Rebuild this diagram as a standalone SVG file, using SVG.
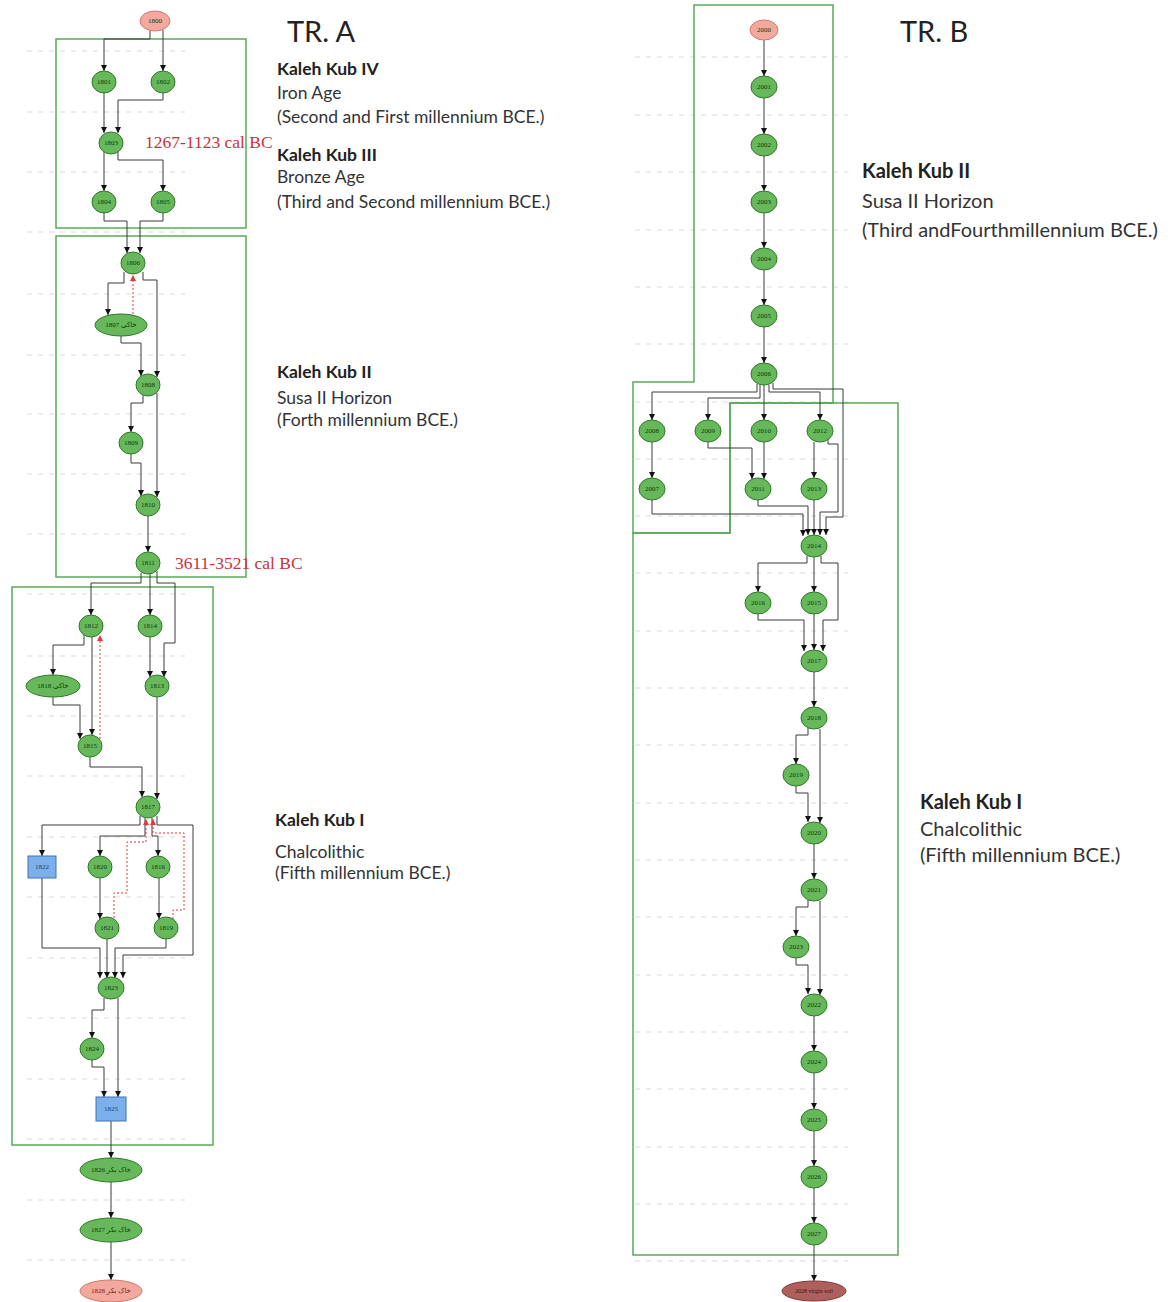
<svg xmlns="http://www.w3.org/2000/svg" width="1173" height="1302" viewBox="0 0 1173 1302">
<style>
.g{stroke:#d9d9d9;stroke-width:1;stroke-dasharray:5 6;fill:none}
.c{fill:none;stroke:#5aa85a;stroke-width:1.5}
.n{fill:#66b85a;stroke:#2f7a2a;stroke-width:1}
.p{fill:#f2a89c;stroke:#cf7a70;stroke-width:1}
.b{fill:#7cb0ea;stroke:#3f72b8;stroke-width:1}
.v{fill:#b0605c;stroke:#7a3a38;stroke-width:1}
.t{font-family:"Liberation Serif","DejaVu Sans",serif;font-size:7px;fill:#0f3a0f;text-anchor:middle;dominant-baseline:central}
.e{fill:none;stroke:#3a3a3a;stroke-width:1;marker-end:url(#a)}
.r{fill:none;stroke:#e03a3a;stroke-width:1;stroke-dasharray:2 2;marker-end:url(#ar)}
.h{font-family:Lato,"Open Sans","Liberation Sans",sans-serif;fill:#222}
.lb{font-family:Lato,"Open Sans","Liberation Sans",sans-serif;fill:#333}
.red{font-family:"Liberation Serif",serif;font-size:17.5px;fill:#c8323c}
.sa{font-size:17.5px}
.sb{font-size:20px}
</style>
<defs>
<marker id="a" viewBox="0 0 10 10" refX="10" refY="5" markerWidth="6" markerHeight="6" markerUnits="userSpaceOnUse" orient="auto"><path d="M0,0L10,5L0,10z" fill="#111"/></marker>
<marker id="ar" viewBox="0 0 10 10" refX="10" refY="5" markerWidth="6" markerHeight="6" markerUnits="userSpaceOnUse" orient="auto"><path d="M0,0L10,5L0,10z" fill="#e03a3a"/></marker>
</defs>
<rect width="1173" height="1302" fill="#fff"/>
<g id="grid">
<path class="g" d="M27,51H185M27,112H185M27,172H185M27,232H185M27,294H185M27,355H185M27,414H185M27,474H185M27,534H185M27,594H185M27,656H185M27,716H185M27,776H185M27,837H185M27,897H185M27,958H185M27,1018H185M27,1079H185M27,1139H185M27,1200H185M27,1260H185"/>
<path class="g" d="M635,57H848M635,115H848M635,172H848M635,230H848M635,287H848M635,344H848M635,402H848M635,459H848M635,516H848M635,573H848M635,631H848M635,688H848M635,745H848M635,803H848M635,860H848M635,917H848M635,975H848M635,1032H848M635,1089H848M635,1147H848M635,1204H848M635,1261H848"/>
</g>
<g id="clusters">
<rect class="c" x="56" y="39" width="190" height="189"/>
<rect class="c" x="56" y="236" width="190" height="341"/>
<rect class="c" x="12" y="587" width="201" height="558"/>
<polygon class="c" points="694,5 833,5 833,403 730,403 730,533 633,533 633,382 694,382"/>
<polygon class="c" points="730,403 898,403 898,1255 633,1255 633,533 730,533"/>
</g>
<g id="connectors">
<path class="e" d="M150,31V39H104V71"/>
<path class="e" d="M163,30V71"/>
<path class="e" d="M104,93V133"/>
<path class="e" d="M163,93V100H118V133"/>
<path class="e" d="M104,152V191"/>
<path class="e" d="M118,152V160H163V191"/>
<path class="e" d="M104,213V221H127V253"/>
<path class="e" d="M163,213V221H140V253"/>
<path class="e" d="M124,272V283H108V315"/>
<path class="r" d="M133,314V275"/>
<path class="e" d="M143,272V280H157V377"/>
<path class="e" d="M121,336V343H141V376"/>
<path class="e" d="M143,395V403H131V432"/>
<path class="e" d="M157,393V497"/>
<path class="e" d="M131,454V463H141V496"/>
<path class="e" d="M148,516V552"/>
<path class="e" d="M141,573V583H91V615"/>
<path class="e" d="M150,574V615"/>
<path class="e" d="M157,571V583H175V643H164V677"/>
<path class="e" d="M150,637V677"/>
<path class="e" d="M84,635V645H53V675"/>
<path class="e" d="M92,637V735"/>
<path class="e" d="M53,697V705H80V739"/>
<path class="r" d="M100,739V635"/>
<path class="e" d="M90,757V767H142V797"/>
<path class="e" d="M157,697V799"/>
<path class="e" d="M140,816V825H42V856"/>
<path class="e" d="M145,818V836H100V856"/>
<path class="e" d="M152,818V836H158V856"/>
<path class="e" d="M157,816V825H193V955H123V978"/>
<path class="r" d="M114,918V893H127V842H146V819"/>
<path class="r" d="M173,919V910H184V833H153V819"/>
<path class="e" d="M42,878V948H100V978"/>
<path class="e" d="M100,878V919"/>
<path class="e" d="M159,878V919"/>
<path class="e" d="M107,939V978"/>
<path class="e" d="M166,939V948H115V978"/>
<path class="e" d="M104,998V1010H92V1038"/>
<path class="e" d="M118,998V1097"/>
<path class="e" d="M92,1060V1067H104V1097"/>
<path class="e" d="M111,1121V1158"/>
<path class="e" d="M111,1182V1218"/>
<path class="e" d="M111,1242V1280"/>
<path class="e" d="M764,40V76"/>
<path class="e" d="M764,98V134"/>
<path class="e" d="M764,156V191"/>
<path class="e" d="M764,213V248"/>
<path class="e" d="M764,270V305"/>
<path class="e" d="M764,327V363"/>
<path class="e" d="M757,384V392H652V420"/>
<path class="e" d="M760,385V398H708V420"/>
<path class="e" d="M764,385V420"/>
<path class="e" d="M769,385V392H820V420"/>
<path class="e" d="M773,383V389H843V517H826V535"/>
<path class="e" d="M652,442V478"/>
<path class="e" d="M708,442V448H752V479"/>
<path class="e" d="M764,442V479"/>
<path class="e" d="M814,442V478"/>
<path class="e" d="M828,439V444H838V512H820V535"/>
<path class="e" d="M652,500V514H803V536"/>
<path class="e" d="M758,500V506H808V535"/>
<path class="e" d="M814,500V535"/>
<path class="e" d="M807,556V563H758V592"/>
<path class="e" d="M814,557V592"/>
<path class="e" d="M821,556V563H838V620H823V651"/>
<path class="e" d="M758,614V620H804V651"/>
<path class="e" d="M814,614V650"/>
<path class="e" d="M814,672V707"/>
<path class="e" d="M808,728V735H796V764"/>
<path class="e" d="M820,729V823"/>
<path class="e" d="M796,786V793H808V822"/>
<path class="e" d="M814,844V879"/>
<path class="e" d="M808,900V907H796V936"/>
<path class="e" d="M820,901V995"/>
<path class="e" d="M796,958V965H808V994"/>
<path class="e" d="M814,1016V1051"/>
<path class="e" d="M814,1073V1109"/>
<path class="e" d="M814,1131V1166"/>
<path class="e" d="M814,1188V1223"/>
<path class="e" d="M814,1245V1281"/>
</g>
<g id="n1800"><ellipse class="p" cx="155" cy="21" rx="15" ry="10"/><text class="t" x="155" y="21">1800</text></g>
<g id="n1801"><ellipse class="n" cx="104" cy="82" rx="12" ry="11"/><text class="t" x="104" y="82">1801</text></g>
<g id="n1802"><ellipse class="n" cx="163" cy="82" rx="12" ry="11"/><text class="t" x="163" y="82">1802</text></g>
<g id="n1803"><ellipse class="n" cx="111" cy="143" rx="12" ry="11"/><text class="t" x="111" y="143">1803</text></g>
<g id="n1804"><ellipse class="n" cx="104" cy="202" rx="12" ry="11"/><text class="t" x="104" y="202">1804</text></g>
<g id="n1805"><ellipse class="n" cx="163" cy="202" rx="12" ry="11"/><text class="t" x="163" y="202">1805</text></g>
<g id="n1806"><ellipse class="n" cx="133" cy="263" rx="12" ry="11"/><text class="t" x="133" y="263">1806</text></g>
<g id="n1807"><ellipse class="n" cx="121" cy="325" rx="26" ry="11"/><text class="t" x="121" y="325">خاکی 1807</text></g>
<g id="n1808"><ellipse class="n" cx="148" cy="385" rx="12" ry="11"/><text class="t" x="148" y="385">1808</text></g>
<g id="n1809"><ellipse class="n" cx="131" cy="443" rx="12" ry="11"/><text class="t" x="131" y="443">1809</text></g>
<g id="n1810"><ellipse class="n" cx="148" cy="505" rx="12" ry="11"/><text class="t" x="148" y="505">1810</text></g>
<g id="n1811"><ellipse class="n" cx="148" cy="563" rx="12" ry="11"/><text class="t" x="148" y="563">1811</text></g>
<g id="n1812"><ellipse class="n" cx="91" cy="626" rx="12" ry="11"/><text class="t" x="91" y="626">1812</text></g>
<g id="n1814"><ellipse class="n" cx="150" cy="626" rx="12" ry="11"/><text class="t" x="150" y="626">1814</text></g>
<g id="n1818"><ellipse class="n" cx="53" cy="686" rx="27" ry="11"/><text class="t" x="53" y="686">خاکی 1818</text></g>
<g id="n1813"><ellipse class="n" cx="157" cy="686" rx="12" ry="11"/><text class="t" x="157" y="686">1813</text></g>
<g id="n1815"><ellipse class="n" cx="90" cy="746" rx="12" ry="11"/><text class="t" x="90" y="746">1815</text></g>
<g id="n1817"><ellipse class="n" cx="148" cy="807" rx="12" ry="11"/><text class="t" x="148" y="807">1817</text></g>
<g id="n1822"><rect class="b" x="28" y="856" width="28" height="22"/><text class="t" x="42" y="867" style="fill:#1d3f7a">1822</text></g>
<g id="n1820"><ellipse class="n" cx="100" cy="867" rx="12" ry="11"/><text class="t" x="100" y="867">1820</text></g>
<g id="n1816"><ellipse class="n" cx="158" cy="867" rx="12" ry="11"/><text class="t" x="158" y="867">1816</text></g>
<g id="n1821"><ellipse class="n" cx="107" cy="928" rx="12" ry="11"/><text class="t" x="107" y="928">1821</text></g>
<g id="n1819"><ellipse class="n" cx="166" cy="928" rx="12" ry="11"/><text class="t" x="166" y="928">1819</text></g>
<g id="n1823"><ellipse class="n" cx="111" cy="988" rx="13" ry="11"/><text class="t" x="111" y="988">1823</text></g>
<g id="n1824"><ellipse class="n" cx="92" cy="1049" rx="12" ry="11"/><text class="t" x="92" y="1049">1824</text></g>
<g id="n1825"><rect class="b" x="96" y="1097" width="30" height="24"/><text class="t" x="111" y="1109" style="fill:#1d3f7a">1825</text></g>
<g id="n1826"><ellipse class="n" cx="111" cy="1170" rx="31" ry="12"/><text class="t" x="111" y="1170">خاک بکر 1826</text></g>
<g id="n1827"><ellipse class="n" cx="111" cy="1230" rx="31" ry="12"/><text class="t" x="111" y="1230">خاک بکر 1827</text></g>
<g id="n1828"><ellipse class="p" cx="111" cy="1291" rx="31" ry="11"/><text class="t" x="111" y="1291" style="fill:#7a2020">خاک بکر 1828</text></g>
<g id="n2000"><ellipse class="p" cx="764" cy="30" rx="14" ry="10"/><text class="t" x="764" y="30">2000</text></g>
<g id="n2001"><ellipse class="n" cx="764" cy="87" rx="13" ry="11"/><text class="t" x="764" y="87">2001</text></g>
<g id="n2002"><ellipse class="n" cx="764" cy="145" rx="13" ry="11"/><text class="t" x="764" y="145">2002</text></g>
<g id="n2003"><ellipse class="n" cx="764" cy="202" rx="13" ry="11"/><text class="t" x="764" y="202">2003</text></g>
<g id="n2004"><ellipse class="n" cx="764" cy="259" rx="13" ry="11"/><text class="t" x="764" y="259">2004</text></g>
<g id="n2005"><ellipse class="n" cx="764" cy="316" rx="13" ry="11"/><text class="t" x="764" y="316">2005</text></g>
<g id="n2006"><ellipse class="n" cx="764" cy="374" rx="13" ry="11"/><text class="t" x="764" y="374">2006</text></g>
<g id="n2008"><ellipse class="n" cx="652" cy="431" rx="13" ry="11"/><text class="t" x="652" y="431">2008</text></g>
<g id="n2009"><ellipse class="n" cx="708" cy="431" rx="13" ry="11"/><text class="t" x="708" y="431">2009</text></g>
<g id="n2010"><ellipse class="n" cx="764" cy="431" rx="13" ry="11"/><text class="t" x="764" y="431">2010</text></g>
<g id="n2012"><ellipse class="n" cx="820" cy="431" rx="13" ry="11"/><text class="t" x="820" y="431">2012</text></g>
<g id="n2007"><ellipse class="n" cx="652" cy="489" rx="13" ry="11"/><text class="t" x="652" y="489">2007</text></g>
<g id="n2011"><ellipse class="n" cx="758" cy="489" rx="13" ry="11"/><text class="t" x="758" y="489">2011</text></g>
<g id="n2013"><ellipse class="n" cx="814" cy="489" rx="13" ry="11"/><text class="t" x="814" y="489">2013</text></g>
<g id="n2014"><ellipse class="n" cx="814" cy="546" rx="13" ry="11"/><text class="t" x="814" y="546">2014</text></g>
<g id="n2016"><ellipse class="n" cx="758" cy="603" rx="13" ry="11"/><text class="t" x="758" y="603">2016</text></g>
<g id="n2015"><ellipse class="n" cx="814" cy="603" rx="13" ry="11"/><text class="t" x="814" y="603">2015</text></g>
<g id="n2017"><ellipse class="n" cx="814" cy="661" rx="13" ry="11"/><text class="t" x="814" y="661">2017</text></g>
<g id="n2018"><ellipse class="n" cx="814" cy="718" rx="13" ry="11"/><text class="t" x="814" y="718">2018</text></g>
<g id="n2019"><ellipse class="n" cx="796" cy="775" rx="13" ry="11"/><text class="t" x="796" y="775">2019</text></g>
<g id="n2020"><ellipse class="n" cx="814" cy="833" rx="13" ry="11"/><text class="t" x="814" y="833">2020</text></g>
<g id="n2021"><ellipse class="n" cx="814" cy="890" rx="13" ry="11"/><text class="t" x="814" y="890">2021</text></g>
<g id="n2023"><ellipse class="n" cx="796" cy="947" rx="13" ry="11"/><text class="t" x="796" y="947">2023</text></g>
<g id="n2022"><ellipse class="n" cx="814" cy="1005" rx="13" ry="11"/><text class="t" x="814" y="1005">2022</text></g>
<g id="n2024"><ellipse class="n" cx="814" cy="1062" rx="13" ry="11"/><text class="t" x="814" y="1062">2024</text></g>
<g id="n2025"><ellipse class="n" cx="814" cy="1120" rx="13" ry="11"/><text class="t" x="814" y="1120">2025</text></g>
<g id="n2026"><ellipse class="n" cx="814" cy="1177" rx="13" ry="11"/><text class="t" x="814" y="1177">2026</text></g>
<g id="n2027"><ellipse class="n" cx="814" cy="1234" rx="13" ry="11"/><text class="t" x="814" y="1234">2027</text></g>
<g id="n2028"><ellipse class="v" cx="814" cy="1291" rx="32" ry="10"/><text class="t" x="814" y="1291" style="fill:#3a1010;font-size:6px">2028 virgin soil</text></g>
<g id="labels">
<text class="h" x="287" y="42" font-size="29">TR. A</text>
<text class="h" x="900" y="42" font-size="29">TR. B</text>
<text class="red" x="145" y="148">1267-1123 cal BC</text>
<text class="red" x="175" y="569">3611-3521 cal BC</text>
<text class="h sa" x="277" y="75" font-weight="bold">Kaleh Kub IV</text>
<text class="lb sa" x="277" y="99">Iron Age</text>
<text class="lb sa" x="277" y="123">(Second and First millennium BCE.)</text>
<text class="h sa" x="277" y="161" font-weight="bold">Kaleh Kub III</text>
<text class="lb sa" x="277" y="183">Bronze Age</text>
<text class="lb sa" x="277" y="208">(Third and Second millennium BCE.)</text>
<text class="h sa" x="277" y="378" font-weight="bold">Kaleh Kub II</text>
<text class="lb sa" x="277" y="404">Susa II Horizon</text>
<text class="lb sa" x="277" y="426">(Forth millennium BCE.)</text>
<text class="h sa" x="275" y="826" font-weight="bold">Kaleh Kub I</text>
<text class="lb sa" x="275" y="858">Chalcolithic</text>
<text class="lb sa" x="275" y="879">(Fifth millennium BCE.)</text>
<text class="h sb" x="862" y="178" font-weight="bold">Kaleh Kub II</text>
<text class="lb sb" x="862" y="208">Susa II Horizon</text>
<text class="lb sb" x="862" y="237">(Third andFourthmillennium BCE.)</text>
<text class="h sb" x="920" y="809" font-weight="bold">Kaleh Kub I</text>
<text class="lb sb" x="920" y="836">Chalcolithic</text>
<text class="lb sb" x="920" y="862">(Fifth millennium BCE.)</text>
</g>
</svg>
